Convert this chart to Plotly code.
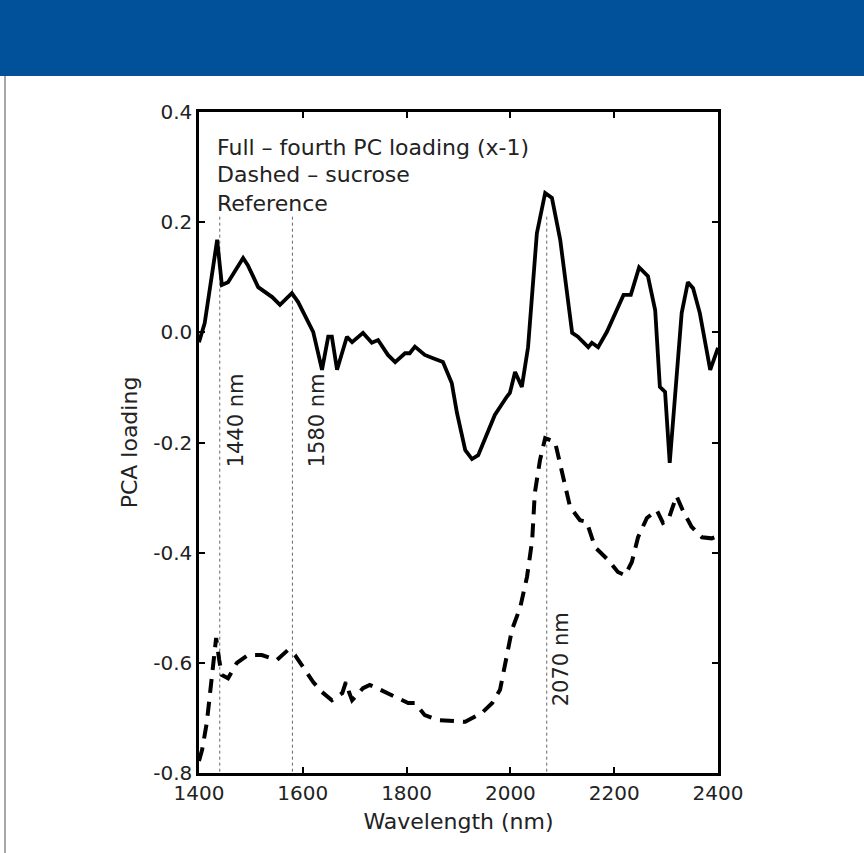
import plotly.graph_objects as go

# Solid curve: fourth PC loading (x-1)
pc_wl = [1400, 1411, 1435, 1444, 1456, 1485, 1494, 1514, 1541, 1556, 1579, 1591, 1620, 1637, 1649, 1656,
         1666, 1685, 1695, 1716, 1733, 1745, 1764, 1778, 1797, 1806, 1816, 1835, 1851, 1870, 1887, 1897,
         1913, 1926, 1938, 1955, 1970, 1993, 1999, 2009, 2022, 2034, 2044, 2051, 2067, 2080, 2096, 2119,
         2130, 2150, 2157, 2169, 2186, 2218, 2232, 2248, 2265, 2279, 2288, 2298, 2307, 2323, 2330, 2342,
         2352, 2365, 2385, 2400]
pc_val = [-0.018, 0.017, 0.168, 0.086, 0.091, 0.135, 0.122, 0.082, 0.064, 0.050, 0.071, 0.055, 0.001, -0.068, -0.008, -0.008,
          -0.068, -0.008, -0.018, -0.001, -0.019, -0.014, -0.041, -0.054, -0.038, -0.038, -0.026, -0.041, -0.047, -0.054, -0.092, -0.146,
          -0.214, -0.230, -0.223, -0.183, -0.150, -0.117, -0.110, -0.072, -0.099, -0.027, 0.090, 0.180, 0.253, 0.244, 0.168, -0.001,
          -0.008, -0.027, -0.019, -0.027, 0.001, 0.068, 0.068, 0.118, 0.102, 0.040, -0.099, -0.108, -0.237, -0.045, 0.035, 0.091,
          0.080, 0.035, -0.068, -0.028]

# Dashed curve: sucrose reference
suc_wl = [1400, 1406, 1415, 1421, 1427, 1433, 1439, 1444, 1456, 1473, 1494, 1521, 1550, 1571, 1585, 1604,
          1620, 1637, 1656, 1676, 1683, 1689, 1695, 1716, 1729, 1743, 1778, 1803, 1816, 1835, 1860, 1893,
          1913, 1945, 1965, 1980, 1990, 2003, 2019, 2032, 2042, 2047, 2057, 2067, 2086, 2099, 2115, 2134,
          2147, 2163, 2188, 2207, 2221, 2234, 2246, 2263, 2282, 2294, 2304, 2320, 2332, 2349, 2369, 2388, 2400]
suc_val = [-0.778, -0.758, -0.709, -0.655, -0.608, -0.555, -0.595, -0.622, -0.628, -0.600, -0.586, -0.586, -0.595, -0.577, -0.586, -0.613,
           -0.635, -0.653, -0.668, -0.655, -0.635, -0.653, -0.668, -0.646, -0.640, -0.646, -0.662, -0.673, -0.673, -0.695, -0.704, -0.707,
           -0.707, -0.691, -0.673, -0.649, -0.600, -0.540, -0.499, -0.444, -0.377, -0.292, -0.232, -0.192, -0.199, -0.250, -0.317, -0.341,
           -0.344, -0.390, -0.413, -0.435, -0.441, -0.417, -0.372, -0.337, -0.323, -0.346, -0.341, -0.297, -0.323, -0.353, -0.372, -0.374, -0.370]

ref_wl = [1440, 1580, 2070]
ref_labels = ["1440 nm", "1580 nm", "2070 nm"]
ref_label_x = [1473, 1629, 2098]
ref_label_y = [-0.16, -0.16, -0.593]
ref_top = 0.21
ref_bottom = -0.8

x_ticks = [1400, 1600, 1800, 2000, 2200, 2400]
y_ticks = [-0.8, -0.6, -0.4, -0.2, 0.0, 0.2, 0.4]
y_tick_text = ["-0.8", "-0.6", "-0.4", "-0.2", "0.0", "0.2", "0.4"]

legend_lines = ["Full – fourth PC loading (x-1)", "Dashed – sucrose", "Reference"]

FONT = "DejaVu Sans, Verdana, sans-serif"
TXT = "#222222"

fig = go.Figure()

for wl in ref_wl:
    fig.add_trace(go.Scatter(x=[wl, wl], y=[ref_top, ref_bottom], mode="lines",
                             line=dict(color="#666666", width=1, dash="dot"),
                             showlegend=False, hoverinfo="skip"))

fig.add_trace(go.Scatter(x=pc_wl, y=pc_val, mode="lines",
                         line=dict(color="black", width=3.8), showlegend=False))
fig.add_trace(go.Scatter(x=suc_wl, y=suc_val, mode="lines",
                         line=dict(color="black", width=4, dash="14px,9px"), showlegend=False))

# header bar and left border
fig.add_shape(type="rect", xref="paper", yref="paper", x0=-0.40, x1=1.30, y0=1.0545, y1=1.18,
              fillcolor="#00519a", line=dict(width=0), layer="below")
fig.add_shape(type="line", xref="paper", yref="paper", x0=-0.3738, x1=-0.3738, y0=1.0545, y1=-0.13,
              line=dict(color="#8a8a8a", width=1.5))

legend_y = [0.947, 0.9047, 0.8623]
for txt, yy in zip(legend_lines, legend_y):
    fig.add_annotation(x=0.031, y=yy, xref="paper", yref="paper", text=txt, showarrow=False,
                       xanchor="left", yanchor="middle", font=dict(family=FONT, size=22, color=TXT))

for lab, lx, ly in zip(ref_labels, ref_label_x, ref_label_y):
    fig.add_annotation(x=lx, y=ly, text=lab, showarrow=False, textangle=-90,
                       xanchor="center", yanchor="middle", font=dict(family=FONT, size=21, color=TXT))

axis_common = dict(showgrid=False, zeroline=False, showline=True, linecolor="black", linewidth=2.5,
                   mirror="ticks", ticks="inside", ticklen=6, tickwidth=2, tickcolor="black",
                   tickfont=dict(family=FONT, size=20, color=TXT))

fig.update_xaxes(range=[1400, 2400], tickvals=x_ticks,
                 title=dict(text="Wavelength (nm)", font=dict(family=FONT, size=22, color=TXT), standoff=10),
                 **axis_common)
fig.update_yaxes(range=[-0.8, 0.4], tickvals=y_ticks, ticktext=y_tick_text,
                 title=dict(text="PCA loading", font=dict(family=FONT, size=22, color=TXT), standoff=10),
                 **axis_common)

fig.update_layout(width=864, height=853, margin=dict(l=199, r=146, t=112, b=80, autoexpand=False),
                  paper_bgcolor="white", plot_bgcolor="white", font=dict(family=FONT))

fig.write_html("out.html", config={"displayModeBar": False},
               post_script="document.body.style.margin='0';")
